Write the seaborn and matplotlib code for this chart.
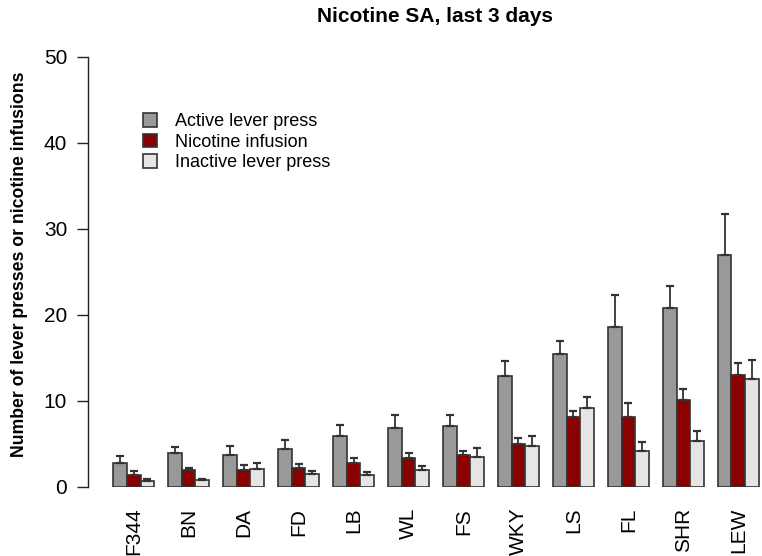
import pandas as pd
import numpy as np
import matplotlib
matplotlib.use("Agg")
import matplotlib.pyplot as plt
import seaborn as sns

# === Dados ===
strains = ["F344", "BN", "DA", "FD", "LB", "WL", "FS", "WKY", "LS", "FL", "SHR", "LEW"]
measures = ["Active lever press", "Nicotine infusion", "Inactive lever press"]

active = [2.84, 3.97, 3.77, 4.47, 5.91, 6.88, 7.12, 12.87, 15.44, 18.63, 20.80, 27.03]
active_err = [0.74, 0.73, 1.01, 1.05, 1.29, 1.44, 1.28, 1.83, 1.56, 3.66, 2.54, 4.67]
nicotine = [1.40, 1.94, 2.02, 2.18, 2.80, 3.38, 3.69, 4.98, 8.09, 8.13, 10.15, 12.99]
nicotine_err = [0.43, 0.26, 0.58, 0.50, 0.58, 0.59, 0.55, 0.70, 0.70, 1.59, 1.21, 1.48]
inactive = [0.66, 0.78, 2.14, 1.48, 1.40, 1.94, 3.54, 4.75, 9.18, 4.20, 5.37, 12.60]
inactive_err = [0.24, 0.19, 0.62, 0.39, 0.35, 0.47, 0.96, 1.20, 1.24, 1.05, 1.09, 2.14]

colors = ["#999999", "#8B0000", "#E5E5E5"]

df = pd.DataFrame({
    "strain": strains * 3,
    "measure": np.repeat(measures, len(strains)),
    "value": active + nicotine + inactive,
})
errs = [active_err, nicotine_err, inactive_err]

# === Estilo ===
sns.set_style("white")
plt.rcParams["font.family"] = ["Liberation Sans", "DejaVu Sans"]
for k in ["text.color", "axes.labelcolor", "xtick.color", "ytick.color"]:
    plt.rcParams[k] = "black"

fig = plt.figure(figsize=(7.62, 5.56), dpi=100)
ax = fig.add_axes([88 / 762, 69 / 556, 674 / 762, 430 / 556])

sns.barplot(data=df, x="strain", y="value", hue="measure", order=strains,
            hue_order=measures, palette=colors, width=0.75, errorbar=None,
            edgecolor="#333333", linewidth=1.2, saturation=1, ax=ax)

# === Barras de erro (só para cima) ===
for cont, err in zip(ax.containers, errs):
    xs = [b.get_x() + b.get_width() / 2 for b in cont]
    ys = [b.get_height() for b in cont]
    ax.errorbar(xs, ys, yerr=[np.zeros(len(err)), err], fmt="none",
                ecolor="#333333", elinewidth=1.3, capsize=2.8, capthick=1.6,
                zorder=1)

ax.set_xlim(-0.83, 11.43)
ax.set_ylim(0, 50)
ax.set_yticks([0, 10, 20, 30, 40, 50])
ax.set_xlabel("")
ax.set_ylabel("")
ax.tick_params(axis="x", length=0, pad=15, labelsize=15, labelrotation=90)
ax.tick_params(axis="y", length=8, width=1, pad=7, labelsize=15, left=True,
               color="#222222")
sns.despine(ax=ax, top=True, right=True, bottom=True)
ax.spines["left"].set_color("#222222")
ax.spines["left"].set_linewidth(1)

# === Legenda ===
handles, labels = ax.get_legend_handles_labels()
ax.legend(handles, labels, frameon=False, loc="upper left",
          bbox_to_anchor=(143 / 762, 1 - 113 / 556), bbox_transform=fig.transFigure,
          borderpad=0, borderaxespad=0, fontsize=13, handlelength=0.78,
          handleheight=0.78, handletextpad=1.0, labelspacing=0.2)

fig.text(435 / 762, 1 - 16 / 556, "Nicotine SA, last 3 days", ha="center",
         va="center", fontsize=15, fontweight="bold")
fig.text(20 / 762, 1 - 264 / 556, "Number of lever presses or nicotine infusions",
         ha="center", va="center", rotation=90, fontsize=12.7, fontweight="bold")

fig.savefig("out.png", dpi=100)
